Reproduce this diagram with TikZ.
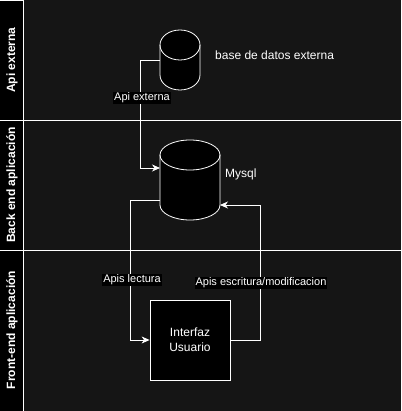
\documentclass[tikz,border=0pt]{standalone}
\usepackage{fontspec}
\setmainfont{Liberation Sans}
\usetikzlibrary{arrows.meta}
\definecolor{bgdark}{HTML}{151515}
\newcommand{\dbcyl}[5]{% name, x1, x2, ytop, ybot ; ry = 15
  \pgfmathsetmacro{\cxa}{(#2+#3)/2}%
  \pgfmathsetmacro{\rxa}{(#3-#2)/2}%
  \pgfmathsetmacro{\ctop}{#4+15}%
  \pgfmathsetmacro{\cbot}{#5-15}%
  \pgfmathsetmacro{\kx}{0.5523*\rxa}%
  \pgfmathsetmacro{\ky}{0.5523*15}%
  \fill[black] (#2,\ctop) rectangle (#3,\cbot);
  \fill[black] (\cxa,\ctop) ellipse [x radius=\rxa, y radius=15];
  \fill[black] (\cxa,\cbot) ellipse [x radius=\rxa, y radius=15];
  \draw[white,line width=0.8pt] (\cxa,\ctop) ellipse [x radius=\rxa, y radius=15];
  \draw[white,line width=0.8pt] (#2,\ctop) -- (#2,\cbot)
     .. controls (#2,\cbot+\ky) and (\cxa-\kx,\cbot+15) .. (\cxa,\cbot+15)
     .. controls (\cxa+\kx,\cbot+15) and (#3,\cbot+\ky) .. (#3,\cbot) -- (#3,\ctop);
  \coordinate (#1) at (\cxa,{(#4+#5)/2});
}
\begin{document}
\begin{tikzpicture}[x=1pt,y=-1pt,
  lanelbl/.style={rotate=90,text=white,font=\fontsize{12}{14}\selectfont\bfseries,inner sep=0pt},
  txt/.style={text=white,font=\fontsize{12}{14}\selectfont,inner sep=0pt},
  elbl/.style={text=white,fill=black,font=\fontsize{11}{13}\selectfont,inner sep=1pt},
  conn/.style={draw=white,line width=0.8pt,-{Stealth[length=8pt,width=7pt,inset=2.5pt]}}
]
\fill[bgdark] (0,0) rectangle (401,411);
\useasboundingbox (0,0) rectangle (401,411);
\fill[black] (0,0) rectangle (23,411);
\draw[white,line width=0.8pt] (23,0) -- (23,411);
\draw[white,line width=0.8pt] (0,120) -- (401,120);
\draw[white,line width=0.8pt] (0,250) -- (401,250);
\draw[white,line width=0.8pt] (0,0.4) -- (23,0.4);
\node[lanelbl] (l1) at (12,60) {Api externa};
\node[lanelbl] (l2) at (12,185) {Back end aplicación};
\node[lanelbl] (l3) at (12,330) {Front-end aplicación};
% cylinders
\dbcyl{ext}{160}{200}{30}{90}
\dbcyl{my}{160}{220}{140}{220}
\node[txt,anchor=west] (extl) at (215,55) {base de datos externa};
\node[txt,anchor=west] (myl) at (225,174) {Mysql};
% UI box
\node[draw=white,fill=black,line width=0.8pt,minimum width=80pt,minimum height=80pt,align=center,text=white,font=\fontsize{12}{15}\selectfont] (ui) at (190,340) {Interfaz\\Usuario};
% connectors
\coordinate (a1) at (160,60);
\coordinate (a2) at (160,168);
\draw[conn] (a1) -- (140,60) -- (140,168) -- (a2);
\node[elbl] (e1) at (142,98) {Api externa};
\coordinate (b1) at (160,200);
\draw[conn] (b1) -- (130,200) -- (130,340) -- (ui.west);
\node[elbl] (e2) at (132,280) {Apis lectura};
\coordinate (c2) at (220,205);
\draw[conn] (ui.east) -- (260,340) -- (260,205) -- (c2);
\node[elbl] (e3) at (261,283) {Apis escritura/modificacion};
\end{tikzpicture}
\end{document}
